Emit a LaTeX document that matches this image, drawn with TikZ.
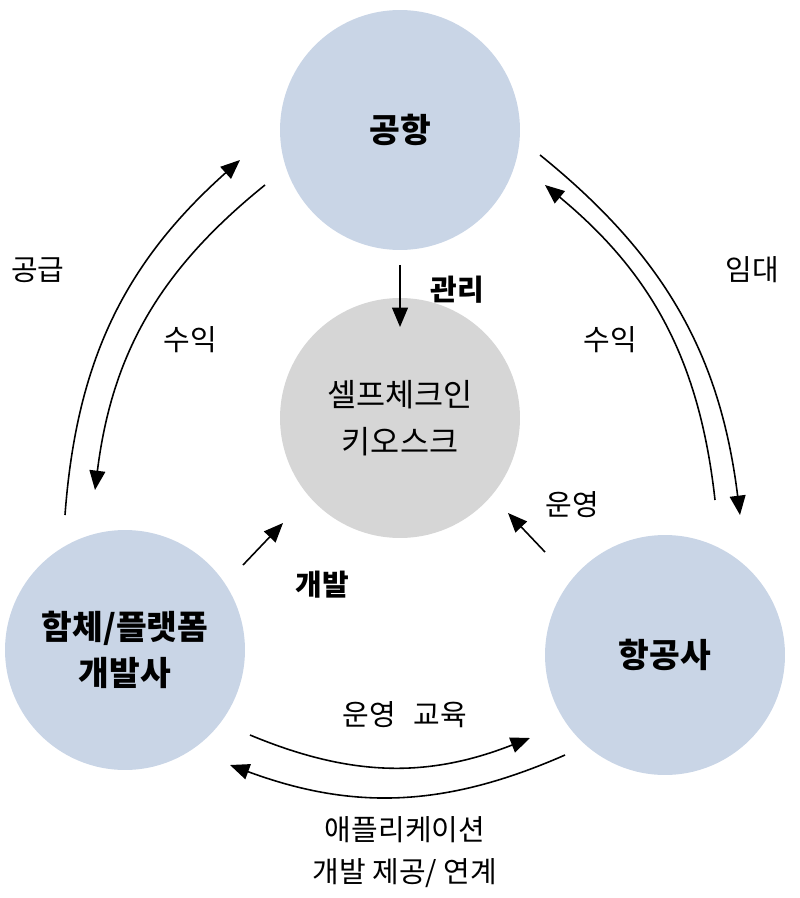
\documentclass[tikz,border=0pt]{standalone}
\usepackage{fontspec}
\setmainfont{Noto Sans CJK KR}
\usetikzlibrary{arrows.meta}
\begin{document}
\begin{tikzpicture}[x=0.02cm,y=-0.02cm,
  bc/.style={circle,draw=none,minimum size=4.8cm,inner sep=0pt,align=center,font=\fontsize{19}{26}\selectfont\bfseries},
  gc/.style={circle,draw=none,minimum size=4.8cm,inner sep=0pt,align=center,font=\fontsize{18}{27}\selectfont},
  ar/.style={line width=0.9pt,-{Triangle[length=11pt,width=9pt]}},
  lb/.style={font=\fontsize{16.5}{24}\selectfont},
  lbb/.style={font=\fontsize{16.5}{22}\selectfont\bfseries}]
\useasboundingbox (0,0) rectangle (800,898);
\definecolor{cb}{HTML}{C9D5E6}
\node[bc,fill=cb] (ap) at (400,130) {공항};
\node[gc,fill=gray!32] (k) at (400,418) {셀프체크인\\키오스크};
\node[bc,fill=cb] (dev) at (125,650) {함체/플랫폼\\개발사};
\node[bc,fill=cb] (air) at (665,655) {항공사};
\coordinate (a1) at (65,515); \coordinate (a2) at (240,160);
\coordinate (b1) at (265,185); \coordinate (b2) at (95,490);
\coordinate (c1) at (540,155); \coordinate (c2) at (740,515);
\coordinate (d1) at (715,500); \coordinate (d2) at (545,185);
\coordinate (e1) at (250,735); \coordinate (e2) at (530,738);
\coordinate (f1) at (565,755); \coordinate (f2) at (230,765);
\draw[ar] (a1) to[bend left=22] (a2);
\draw[ar] (b1) to[bend right=22] (b2);
\draw[ar] (c1) to[bend left=22] (c2);
\draw[ar] (d1) to[bend right=22] (d2);
\draw[ar] (e1) to[bend right=22] (e2);
\draw[ar] (f1) to[bend left=22] (f2);
\coordinate (g1) at (400,265); \coordinate (g2) at (400,327);
\draw[ar] (g1) -- (g2);
\coordinate (h1) at (243,565); \coordinate (h2) at (283,523);
\draw[ar] (h1) -- (h2);
\coordinate (i1) at (545,552); \coordinate (i2) at (508,513);
\draw[ar] (i1) -- (i2);
\node[lb] (t1) at (38,270) {공급};
\node[lb] (t2) at (190,340) {수익};
\node[lb] (t3) at (752,270) {임대};
\node[lb] (t4) at (610,340) {수익};
\node[lbb] (t5) at (457,290) {관리};
\node[lbb] (t6) at (322,585) {개발};
\node[lb] (t7) at (572,505) {운영};
\node[lb] (t8) at (405,715) {운영\hspace{0.6em}교육};
\node[lb,align=center] (t9) at (405,852) {애플리케이션\\개발 제공/ 연계};
\end{tikzpicture}
\end{document}
